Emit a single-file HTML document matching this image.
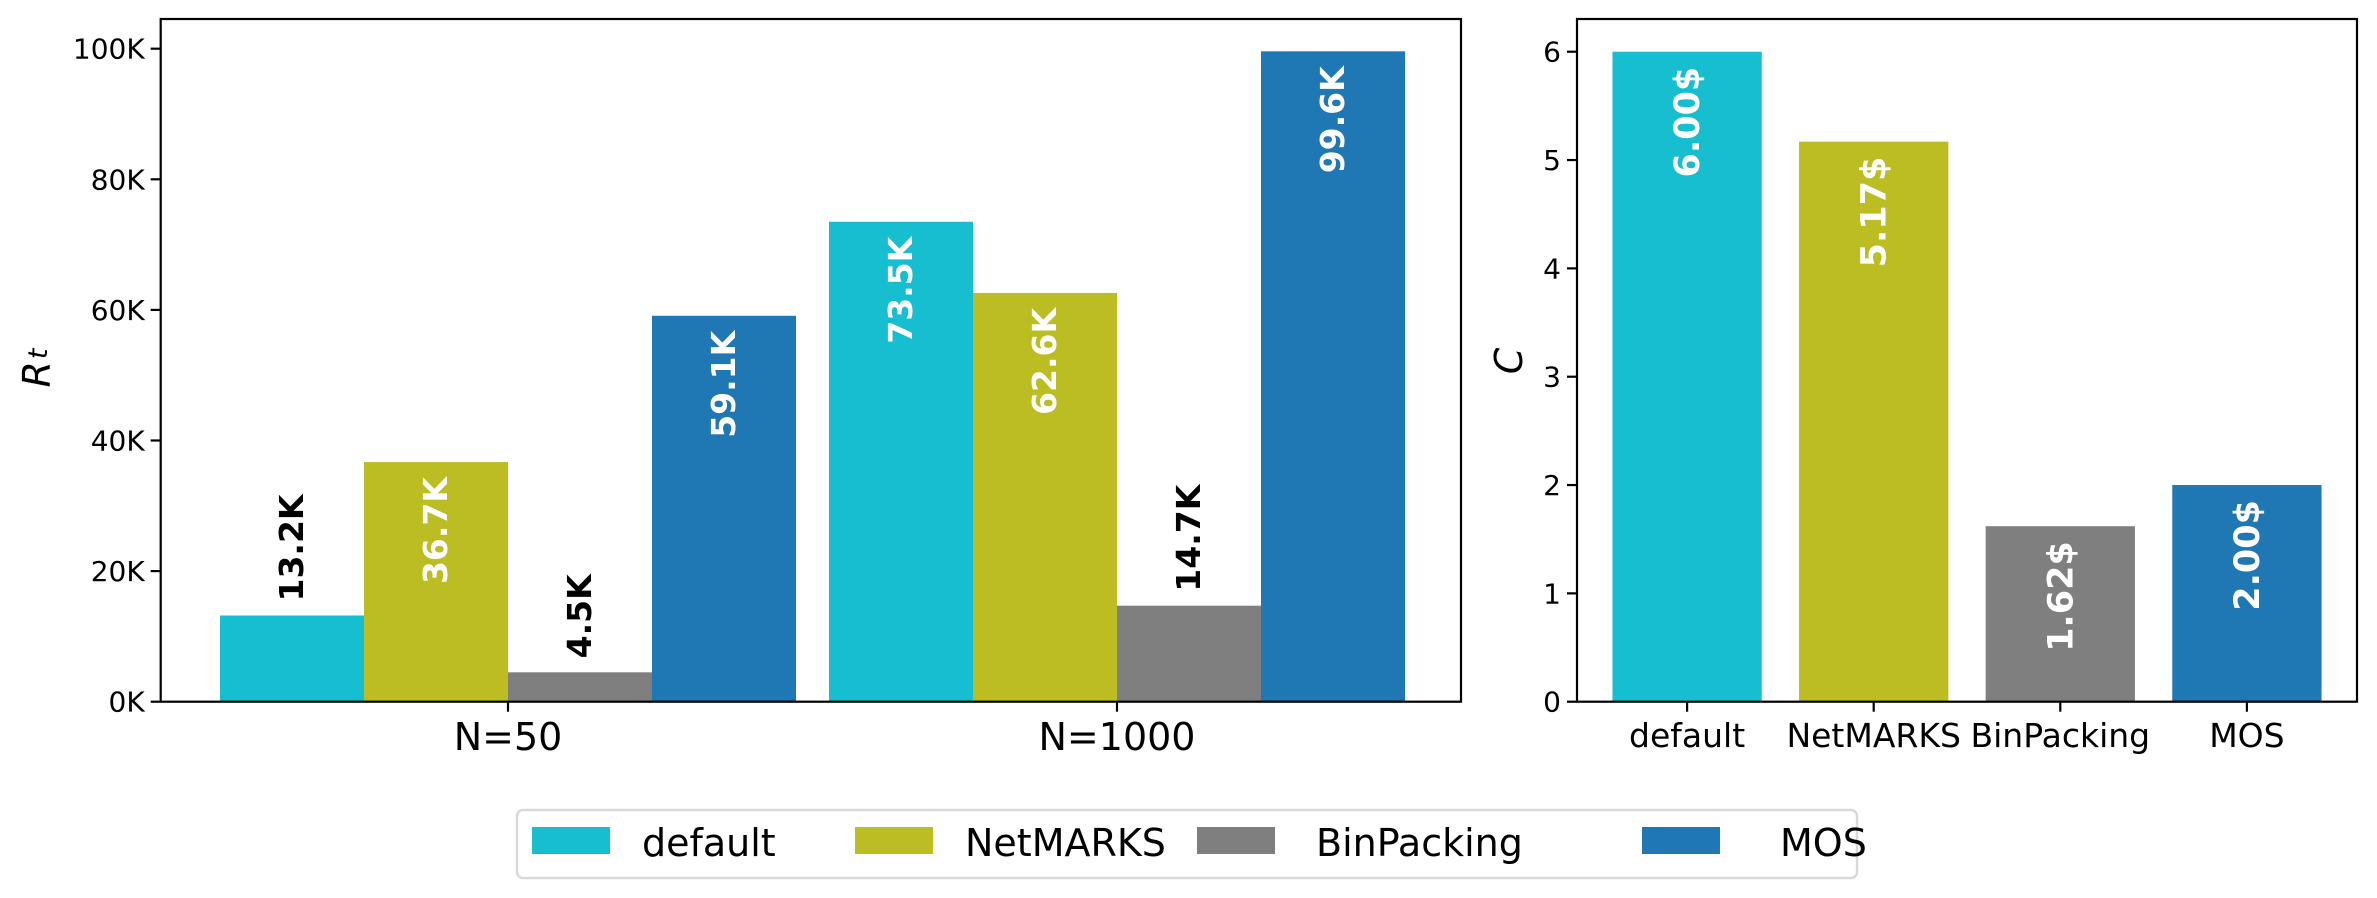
<!DOCTYPE html>
<html><head><meta charset="utf-8">
<style>
html,body{margin:0;padding:0;background:#fff;}
svg{display:block;font-family:"DejaVu Sans","Liberation Sans",sans-serif;}
</style></head>
<body>
<svg id="fig" width="2377" height="898" viewBox="0 0 2377 898" xmlns="http://www.w3.org/2000/svg">
<rect width="2377" height="898" fill="#fff"/>
<g id="left"></g>
<g id="right"></g>
<g id="legend"></g>
</svg>
<script>
const methods = ["default","NetMARKS","BinPacking","MOS"];
const colors = ["#17becf","#bcbd22","#7f7f7f","#1f77b4"];
const groups = ["N=50","N=1000"];
const rtN50 = [13.2, 36.7, 4.5, 59.1];
const rtN1000 = [73.5, 62.6, 14.7, 99.6];
const rtTicks = [0,20,40,60,80,100];
const costValues = [6.00, 5.17, 1.62, 2.00];
const costTicks = [0,1,2,3,4,5,6];

const NS="http://www.w3.org/2000/svg";
function mk(parent, tag, attrs, text){
  const e=document.createElementNS(NS,tag);
  for(const k in attrs) e.setAttribute(k,attrs[k]);
  if(text!==undefined) e.textContent=text;
  parent.appendChild(e); return e;
}
// ---- Left chart ----
const L={x0:160.7,x1:1461,y0:19,y1:701.7};
const yL=v=>L.y1-(v/100)*(L.y1-48.7);
const groupX=[508,1117]; const bw=144;
const gL=document.getElementById('left');
const seriesRt=[rtN50,rtN1000];
seriesRt.forEach((vals,gi)=>{
  vals.forEach((v,mi)=>{
    const x=groupX[gi]-2*bw+mi*bw;
    const r=mk(gL,'rect',{x:x,y:yL(v),width:bw,height:L.y1-yL(v),fill:colors[mi]});
    
    
    const cx=x+bw/2+11; const inside=v>30;
    let ty, anchor, fill;
    if(inside){ty=yL(v)+15;anchor='end';fill='#fff';}
    else{ty=yL(v)-14;anchor='start';fill='#000';}
    const t=mk(gL,'text',{x:0,y:0,transform:`translate(${cx},${ty}) rotate(-90)`,'text-anchor':anchor,'font-size':33,'font-weight':'bold',fill:fill},v.toFixed(1)+'K');
    
    
  });
});
rtTicks.forEach(v=>{
  const y=yL(v);
  const tk=mk(gL,'line',{x1:L.x0-10,x2:L.x0,y1:y,y2:y,stroke:'#000','stroke-width':2.2});
  
  
  const tl=mk(gL,'text',{x:L.x0-16,y:y+10,'text-anchor':'end','font-size':28},v+'K');
  
  
});
groups.forEach((g,gi)=>{
  const tk=mk(gL,'line',{x1:groupX[gi],x2:groupX[gi],y1:L.y1,y2:L.y1+10,stroke:'#000','stroke-width':2.2});
  
  
  const tl=mk(gL,'text',{x:groupX[gi],y:750,'text-anchor':'middle','font-size':38},g);
  
  
});
const frL=mk(gL,'rect',{x:L.x0,y:L.y0,width:L.x1-L.x0,height:L.y1-L.y0,fill:'none',stroke:'#000','stroke-width':2.2});


const ylab=mk(gL,'text',{x:0,y:0,transform:'translate(50,368) rotate(-90)','text-anchor':'middle','font-size':38,'font-style':'italic'},'R');


mk(ylab,'tspan',{'font-size':27,dy:-3,dx:2},'t');

// ---- Right chart ----
const R={x0:1577,x1:2357,y0:19,y1:701.7};
const yR=v=>R.y1-v*108.33;
const unit=(R.x1-R.x0)/4.18;
const xR=i=>R.x0+(i+0.59)*unit;
const gR=document.getElementById('right');
costValues.forEach((v,i)=>{
  const w=0.8*unit; const x=xR(i)-w/2;
  const r=mk(gR,'rect',{x:x,y:yR(v),width:w,height:R.y1-yR(v),fill:colors[i]});
  
  
  const t=mk(gR,'text',{x:0,y:0,transform:`translate(${xR(i)+12},${yR(v)+15}) rotate(-90)`,'text-anchor':'end','font-size':35,'font-weight':'bold',fill:'#fff'},v.toFixed(2)+'$');
  
  
  const tk=mk(gR,'line',{x1:xR(i),x2:xR(i),y1:R.y1,y2:R.y1+10,stroke:'#000','stroke-width':2.2});
  
  
  const tl=mk(gR,'text',{x:xR(i),y:747,'text-anchor':'middle','font-size':33},methods[i]);
  
  
});
costTicks.forEach(v=>{
  const y=yR(v);
  const tk=mk(gR,'line',{x1:R.x0-10,x2:R.x0,y1:y,y2:y,stroke:'#000','stroke-width':2.2});
  
  
  const tl=mk(gR,'text',{x:R.x0-16,y:y+10,'text-anchor':'end','font-size':28},String(v));
  
  
});
const frR=mk(gR,'rect',{x:R.x0,y:R.y0,width:R.x1-R.x0,height:R.y1-R.y0,fill:'none',stroke:'#000','stroke-width':2.2});


const ylabR=mk(gR,'text',{x:0,y:0,transform:'translate(1522,361) rotate(-90)','text-anchor':'middle','font-size':38,'font-style':'italic'},'C');



// ---- Legend ----
const gLeg=document.getElementById('legend');
const box=mk(gLeg,'rect',{x:517,y:810,width:1340,height:68,rx:6,fill:'#fff',stroke:'#d9d9d9','stroke-width':2.5});


const patchX=[532,855,1197,1642]; const textX=[642,965,1316,1780];
methods.forEach((m,i)=>{
  const p=mk(gLeg,'rect',{x:patchX[i],y:827,width:78,height:27,fill:colors[i]});
  
  
  const t=mk(gLeg,'text',{x:textX[i],y:856,'font-size':38},m);
  
  
});
</script>
</body></html>
